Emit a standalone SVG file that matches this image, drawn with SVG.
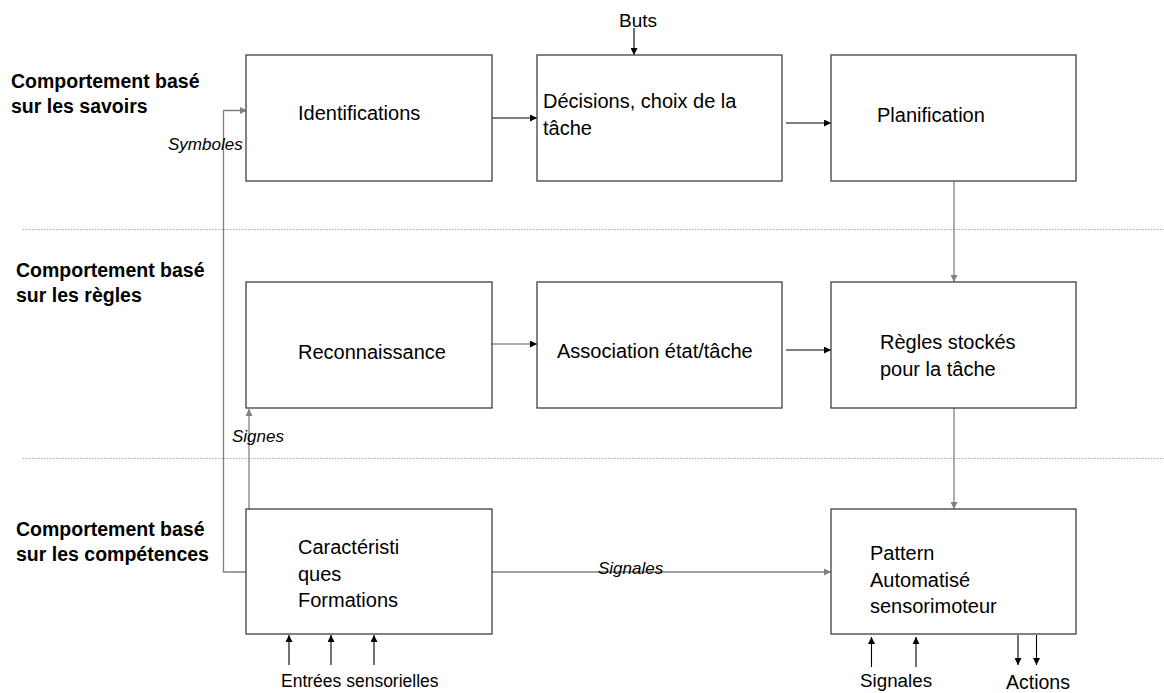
<svg xmlns="http://www.w3.org/2000/svg" width="1164" height="693" viewBox="0 0 1164 693">
<defs>
<style>
.box{fill:#fff;stroke:#404040;stroke-width:1.3}
.t{font-family:"Liberation Sans",Arial,sans-serif;font-size:20px;fill:#000}
.s{font-family:"Liberation Sans",Arial,sans-serif;font-size:18px;fill:#000}
.b{font-family:"Liberation Sans",Arial,sans-serif;font-size:19.5px;font-weight:bold;fill:#000}
.i{font-family:"Liberation Sans",Arial,sans-serif;font-size:17px;font-style:italic;fill:#000}
.sep{stroke:#a6a6a6;stroke-width:1;stroke-dasharray:1.5 1.5;fill:none}
.cb{stroke:#000;stroke-width:1.1;fill:none;marker-end:url(#ab)}
.cg{stroke:#808080;stroke-width:1.3;fill:none;marker-end:url(#ag)}
.cd{stroke:#595959;stroke-width:1.2;fill:none;marker-end:url(#ab)}
</style>
<marker id="ab" viewBox="0 0 10 10" refX="10" refY="5" markerWidth="8" markerHeight="7" orient="auto" markerUnits="userSpaceOnUse"><path d="M0,0 L10,5 L0,10 z" fill="#000"/></marker>
<marker id="ag" viewBox="0 0 10 10" refX="10" refY="5" markerWidth="8" markerHeight="7" orient="auto" markerUnits="userSpaceOnUse"><path d="M0,0 L10,5 L0,10 z" fill="#808080"/></marker>
</defs>
<rect width="1164" height="693" fill="#fff"/>

<g id="separators">
<line class="sep" x1="23" y1="229.5" x2="1164" y2="229.5"/>
<line class="sep" x1="23" y1="458.5" x2="1164" y2="458.5"/>
</g>

<g id="level-labels">
<text class="b" x="11" y="88">Comportement basé</text>
<text class="b" x="11" y="113">sur les savoirs</text>
<text class="b" x="16" y="277">Comportement basé</text>
<text class="b" x="16" y="302">sur les règles</text>
<text class="b" x="16" y="536">Comportement basé</text>
<text class="b" x="16" y="561">sur les compétences</text>
</g>

<g id="connectors">
<path class="cg" d="M246,572 L223.5,572 L223.5,110.5 L247,110.5"/>
<path class="cg" d="M249,509 L249,409"/>
<path class="cg" d="M492,572 L831,572"/>
<path class="cg" d="M954,181 L954,282"/>
<path class="cg" d="M954,408 L954,509"/>
<path class="cb" d="M492,118 L537,118"/>
<path class="cb" d="M786,123 L831,123"/>
<path class="cb" d="M634,28 L634,55"/>
<path class="cd" d="M492,344 L537,344"/>
<path class="cb" d="M786,350 L831,350"/>
<path class="cb" d="M289,665 L289,635"/>
<path class="cb" d="M331,665 L331,635"/>
<path class="cb" d="M374,665 L374,635"/>
<path class="cb" d="M871.5,667 L871.5,637"/>
<path class="cb" d="M916,667 L916,637"/>
<path class="cb" d="M1018,635 L1018,665"/>
<path class="cb" d="M1036.5,635 L1036.5,665"/>
</g>

<g id="connector-labels">
<text class="i" x="168" y="150">Symboles</text>
<text class="i" x="232" y="442">Signes</text>
<text class="i" x="598" y="574">Signales</text>
<text class="s" x="619" y="27" style="font-size:19px">Buts</text>
<text class="s" x="281" y="687" style="font-size:17.5px">Entrées sensorielles</text>
<text class="s" x="860" y="687" style="font-size:18.8px">Signales</text>
<text class="s" x="1006" y="689" style="font-size:19.5px">Actions</text>
</g>

<g id="node-identifications">
<rect class="box" x="246" y="55" width="246" height="126"/>
<text class="t" x="298" y="120">Identifications</text>
</g>
<g id="node-decisions">
<rect class="box" x="537" y="55" width="245" height="126"/>
<text class="t" x="543" y="108">Décisions, choix de la</text>
<text class="t" x="543" y="135">tâche</text>
</g>
<g id="node-planification">
<rect class="box" x="831" y="55" width="245" height="126"/>
<text class="t" x="877" y="122">Planification</text>
</g>
<g id="node-reconnaissance">
<rect class="box" x="246" y="282" width="246" height="126"/>
<text class="t" x="298" y="359">Reconnaissance</text>
</g>
<g id="node-association">
<rect class="box" x="537" y="282" width="245" height="126"/>
<text class="t" x="557" y="358">Association état/tâche</text>
</g>
<g id="node-regles">
<rect class="box" x="831" y="282" width="245" height="126"/>
<text class="t" x="880" y="349">Règles stockés</text>
<text class="t" x="880" y="376">pour la tâche</text>
</g>
<g id="node-caracteristiques">
<rect class="box" x="246" y="509" width="246" height="125"/>
<text class="t" x="298" y="554">Caractéristi</text>
<text class="t" x="298" y="581">ques</text>
<text class="t" x="298" y="607">Formations</text>
</g>
<g id="node-pattern">
<rect class="box" x="831" y="509" width="245" height="125"/>
<text class="t" x="870" y="560">Pattern</text>
<text class="t" x="870" y="587">Automatisé</text>
<text class="t" x="870" y="613">sensorimoteur</text>
</g>
</svg>
